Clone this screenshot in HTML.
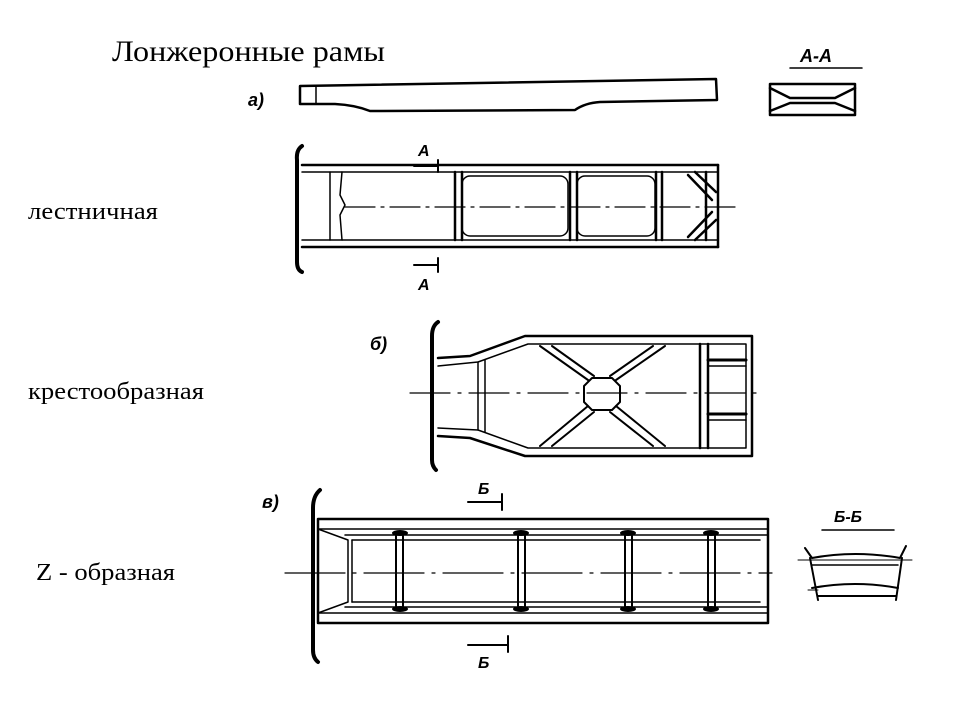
<!DOCTYPE html>
<html><head><meta charset="utf-8"><style>
html,body{margin:0;padding:0;background:#fff;}
svg{display:block;}
.t{font-family:"Liberation Serif",serif;fill:#000;}
.h{font-family:"Liberation Sans",sans-serif;font-style:italic;font-weight:bold;fill:#000;}
</style></head><body>
<svg width="960" height="720" viewBox="0 0 960 720" xmlns="http://www.w3.org/2000/svg">
<rect width="960" height="720" fill="#fff"/>
<text class="t" x="112" y="61" font-size="30" textLength="273" lengthAdjust="spacingAndGlyphs">Лонжеронные рамы</text>
<text class="t" x="28" y="219" font-size="24" textLength="130" lengthAdjust="spacingAndGlyphs">лестничная</text>
<text class="t" x="28" y="399" font-size="24" textLength="176" lengthAdjust="spacingAndGlyphs">крестообразная</text>
<text class="t" x="36" y="580" font-size="24" textLength="139" lengthAdjust="spacingAndGlyphs">Z - образная</text>

<g fill="none" stroke="#000" stroke-width="2.5" stroke-linecap="round" stroke-linejoin="round">
<text class="h" x="248" y="106" font-size="18" stroke="none">а)</text>
<path d="M300 86 L716 79 L717 100 L600 102 Q585 103 575 110 L370 111 Q355 105 335 104 L300 104 Z"/>
<line x1="316" y1="87" x2="316" y2="103" stroke-width="1.5"/>
<text class="h" x="800" y="62" font-size="18" stroke="none" font-style="normal">А-А</text>
<line x1="790" y1="68" x2="862" y2="68" stroke-width="1.5"/>
<path d="M770 84 L855 84 L855 115 L770 115 Z"/>
<path d="M770 88 L790 98 L835 98 L855 88 M770 111 L790 103 L835 103 L855 111"/>

<path d="M302 146 Q296 150 297 160 L297 262 Q297 270 302 272" stroke-width="4"/>
<line x1="302" y1="165" x2="718" y2="165"/>
<line x1="302" y1="172" x2="718" y2="172" stroke-width="1.5"/>
<line x1="302" y1="240" x2="718" y2="240" stroke-width="1.5"/>
<line x1="302" y1="247" x2="718" y2="247"/>
<line x1="718" y1="165" x2="718" y2="247"/>
<line x1="330" y1="172" x2="330" y2="240" stroke-width="1.5"/>
<path d="M342 172 L340 195 L345 205 L340 215 L342 240" stroke-width="1.5"/>
<line x1="455" y1="172" x2="455" y2="240"/><line x1="462" y1="172" x2="462" y2="240"/>
<rect x="462" y="176" width="106" height="60" rx="8" stroke-width="1.5"/>
<line x1="570" y1="172" x2="570" y2="240"/><line x1="577" y1="172" x2="577" y2="240"/>
<rect x="577" y="176" width="78" height="60" rx="8" stroke-width="1.5"/>
<line x1="656" y1="172" x2="656" y2="240"/><line x1="662" y1="172" x2="662" y2="240"/>
<line x1="706" y1="172" x2="706" y2="240"/>
<path d="M688 175 L712 200 M695 172 L716 192 M688 237 L712 212 M695 240 L716 220"/>
<line x1="345" y1="207" x2="740" y2="207" stroke-width="1.2" stroke-dasharray="30 6 3 6"/>
<text class="h" x="418" y="156" font-size="16" stroke="none" font-style="normal">А</text>
<path d="M414 166 L438 166 M438 160 L438 172" stroke-width="2"/>
<path d="M414 265 L438 265 M438 258 L438 272" stroke-width="2"/>
<text class="h" x="418" y="290" font-size="16" stroke="none" font-style="normal">А</text>

<text class="h" x="370" y="350" font-size="18" stroke="none">б)</text>
<path d="M438 322 Q432 326 432 336 L432 460 Q432 466 436 470" stroke-width="4"/>
<path d="M438 358 L470 356 L525 336 L752 336 L752 456 L525 456 L470 438 L438 436"/>
<path d="M438 366 L478 362 L528 344 L746 344 L746 448 L528 448 L478 430 L438 428" stroke-width="1.5"/>
<line x1="478" y1="362" x2="478" y2="430" stroke-width="1.5"/><line x1="485" y1="360" x2="485" y2="432" stroke-width="1.5"/>
<polygon points="592,378 612,378 620,386 620,402 612,410 592,410 584,402 584,386" stroke-width="2"/>
<path d="M540 346 L588 380 M552 346 L594 376 M665 346 L616 380 M653 346 L610 376 M540 446 L588 406 M552 446 L594 412 M665 446 L616 406 M653 446 L610 412" stroke-width="2"/>
<line x1="700" y1="344" x2="700" y2="448"/><line x1="708" y1="344" x2="708" y2="448"/>
<line x1="708" y1="360" x2="746" y2="360" stroke-width="3"/><line x1="708" y1="366" x2="746" y2="366" stroke-width="1.5"/>
<line x1="708" y1="414" x2="746" y2="414" stroke-width="3"/><line x1="708" y1="420" x2="746" y2="420" stroke-width="1.5"/>
<line x1="410" y1="393" x2="762" y2="393" stroke-width="1.2" stroke-dasharray="40 8 3 8"/>

<text class="h" x="262" y="508" font-size="18" stroke="none">в)</text>
<path d="M320 490 Q313 496 313 508 L313 650 Q313 658 318 662" stroke-width="4"/>
<rect x="318" y="519" width="450" height="104" stroke-width="2.5"/>
<line x1="318" y1="529" x2="768" y2="529" stroke-width="1.5"/>
<line x1="345" y1="535" x2="768" y2="535" stroke-width="1.5"/>
<line x1="345" y1="607" x2="768" y2="607" stroke-width="1.5"/>
<line x1="318" y1="613" x2="768" y2="613" stroke-width="1.5"/>
<path d="M318 529 L348 540 L348 602 L318 613" stroke-width="1.5"/>
<line x1="352" y1="540" x2="352" y2="602" stroke-width="1.5"/>
<line x1="352" y1="540" x2="760" y2="540" stroke-width="1.5"/>
<line x1="352" y1="602" x2="760" y2="602" stroke-width="1.5"/>
<g stroke-width="2">
<path d="M396 536 L396 606 M403 536 L403 606"/>
<path d="M518 536 L518 606 M525 536 L525 606"/>
<path d="M625 536 L625 606 M632 536 L632 606"/>
<path d="M708 536 L708 606 M715 536 L715 606"/>
</g>
<g fill="#000" stroke="none">
<ellipse cx="400" cy="533" rx="8" ry="3"/><ellipse cx="400" cy="609" rx="8" ry="3"/>
<ellipse cx="521" cy="533" rx="8" ry="3"/><ellipse cx="521" cy="609" rx="8" ry="3"/>
<ellipse cx="628" cy="533" rx="8" ry="3"/><ellipse cx="628" cy="609" rx="8" ry="3"/>
<ellipse cx="711" cy="533" rx="8" ry="3"/><ellipse cx="711" cy="609" rx="8" ry="3"/>
</g>
<line x1="285" y1="573" x2="772" y2="573" stroke-width="1.2" stroke-dasharray="60 8 3 8"/>
<text class="h" x="478" y="494" font-size="16" stroke="none" font-style="normal">Б</text>
<path d="M468 502 L502 502 M502 494 L502 510" stroke-width="2"/>
<path d="M468 645 L508 645 M508 636 L508 652" stroke-width="2"/>
<text class="h" x="478" y="668" font-size="16" stroke="none" font-style="normal">Б</text>
<text class="h" x="834" y="522" font-size="16" stroke="none" font-style="normal">Б-Б</text>
<line x1="822" y1="530" x2="894" y2="530" stroke-width="1.5"/>
<path d="M805 548 L812 558 Q855 550 900 558 L906 546" stroke-width="2"/>
<line x1="812" y1="565" x2="898" y2="565" stroke-width="1.5"/>
<path d="M810 558 L818 600 M902 558 L896 600" stroke-width="2"/>
<path d="M812 588 Q855 580 898 588 M818 596 L896 596" stroke-width="2"/>
<line x1="798" y1="560" x2="912" y2="560" stroke-width="1"/>
<line x1="808" y1="590" x2="818" y2="590" stroke-width="1"/>
</g>
</svg>
</body></html>
